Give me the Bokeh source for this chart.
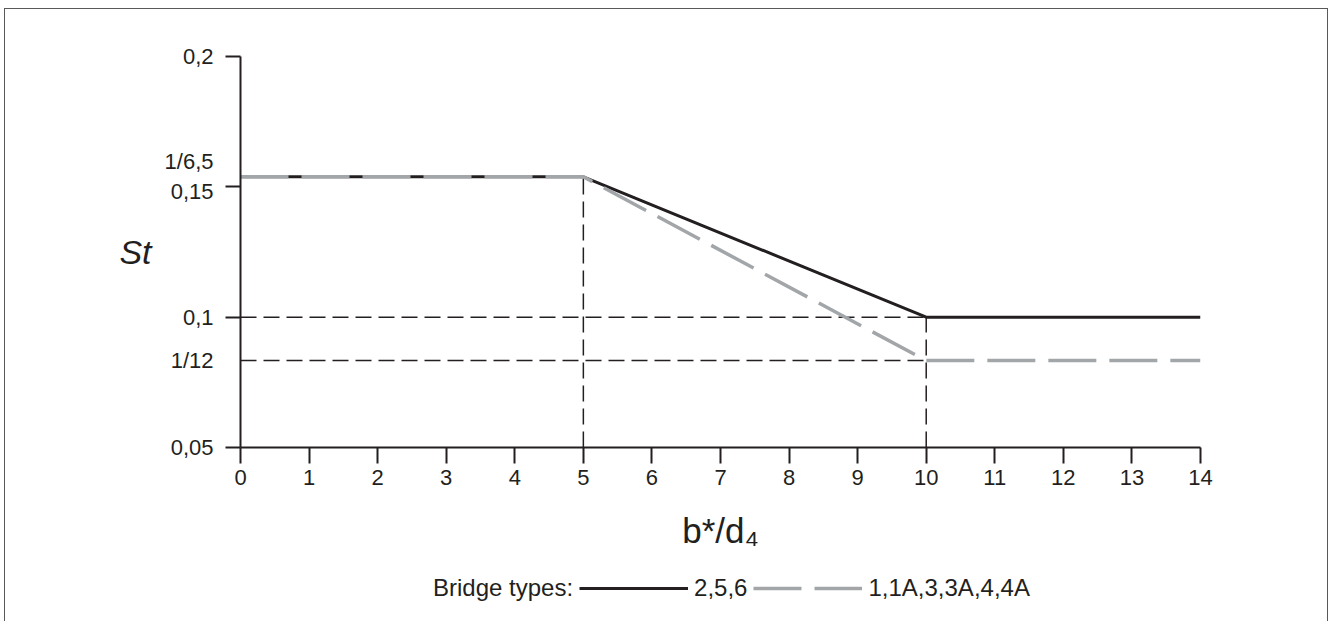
from bokeh.plotting import figure
from bokeh.layouts import column
from bokeh.models import (Range1d, FixedTicker, LinearAxis, Legend, LegendItem,
                          InlineStyleSheet)
from bokeh.embed import file_html
from bokeh.resources import INLINE

# ---- data ----
x_black = [0, 5, 10, 14]
st_black = [1 / 6.5, 1 / 6.5, 0.1, 0.1]
x_grey = [0, 5, 10, 14]
st_grey = [1 / 6.5, 1 / 6.5, 1 / 12, 1 / 12]
x_ticks = list(range(0, 15))
y_ticks = [0.05, 0.1, 0.15, 0.2]
y_label_values = [0.05, 1 / 12, 0.1, 1 / 6.5, 0.2]
y_label_texts = ["0,05", "1/12", "0,1", "1/6,5\n0,15", "0,2"]
x_breaks = [5, 10]
legend_title = "Bridge types:"
series_labels = ["2,5,6", "1,1A,3,3A,4,4A"]

FONT = "Liberation Sans"
INK = "#231f20"
GREY = "#a2a6a9"
BLACK_STYLE = dict(line_color=INK, line_width=3)
GREY_STYLE = dict(line_color=GREY, line_width=3.5, line_dash="48 13")

X0, X1 = 0, 14
Y0, Y1 = 0.05, 0.2
W = 1333
H_MAIN, H_LEG = 565, 56
ML, MR, MT = 240, 133, 56
MB = H_MAIN - MT - 391

p = figure(width=W, height=H_MAIN, x_range=Range1d(X0, X1), y_range=Range1d(Y0, Y1),
           output_backend="svg", toolbar_location=None,
           min_border_left=ML, min_border_right=MR, min_border_top=MT, min_border_bottom=MB)
p.outline_line_color = None
p.grid.visible = False
p.background_fill_color = "white"
p.border_fill_color = "white"

# axes (inner ones carry lines and tick marks)
for ax in (p.xaxis, p.yaxis):
    ax.axis_line_color = INK
    ax.axis_line_width = 2
    ax.major_tick_line_color = INK
    ax.major_tick_line_width = 2
    ax.major_tick_in = 0
    ax.minor_tick_line_color = None
    ax.major_label_text_font = FONT
    ax.major_label_text_color = INK
p.xaxis.ticker = FixedTicker(ticks=x_ticks)
p.xaxis.major_tick_out = 16
p.xaxis.major_label_text_font_size = "22px"
p.xaxis.major_label_standoff = 6
p.xaxis.axis_label = "b*/d\u2084"
p.xaxis.axis_label_text_font = FONT
p.xaxis.axis_label_text_font_size = "35px"
p.xaxis.axis_label_text_font_style = "normal"
p.xaxis.axis_label_text_color = INK
p.xaxis.axis_label_standoff = 23

p.yaxis.ticker = FixedTicker(ticks=y_ticks)
p.yaxis.major_tick_out = 15
p.yaxis.major_label_standoff = 0
p.yaxis.major_label_overrides = {v: "" for v in y_ticks}

# outer y axis: labels only (incl. reference values 1/12 and 1/6,5)
ylab = LinearAxis(ticker=FixedTicker(ticks=y_label_values),
                  major_label_overrides=dict(zip(y_label_values, y_label_texts)),
                  axis_line_color=None, major_tick_line_color=None, minor_tick_line_color=None,
                  major_tick_in=0, major_tick_out=0, major_label_standoff=12,
                  major_label_text_font=FONT, major_label_text_font_size="22px",
                  major_label_text_color=INK,
                  axis_label="St", axis_label_orientation="horizontal",
                  axis_label_text_font=FONT, axis_label_text_font_size="34px",
                  axis_label_text_font_style="italic", axis_label_text_color=INK,
                  axis_label_standoff=10)
p.add_layout(ylab, "left")

# guide lines
g_kw = dict(line_color=INK, line_width=1.5, line_dash="16 7")
p.segment(x0=[x_breaks[0], x_breaks[1]], y0=[Y0, Y0],
          x1=[x_breaks[0], x_breaks[1]], y1=[st_black[1], st_black[2]], **g_kw)
p.segment(x0=[X0, X0], y0=[st_black[2], st_grey[2]],
          x1=[x_breaks[1], x_breaks[1]], y1=[st_black[2], st_grey[2]], **g_kw)

# data lines
p.line(x_black, st_black, **BLACK_STYLE)
p.line(x_grey, st_grey, **GREY_STYLE)

# ---- legend strip below the chart ----
# its y range lies above the data, so the carrier lines themselves stay out of view
q = figure(width=W, height=H_LEG, x_range=Range1d(X0, X1), y_range=Range1d(1, 2),
           output_backend="svg", toolbar_location=None, min_border=0)
q.axis.visible = False
q.grid.visible = False
q.outline_line_color = None
q.background_fill_color = "white"
q.border_fill_color = "white"
k_head = q.line(x_black, st_black, line_alpha=0)
k_black = q.line(x_black, st_black, **BLACK_STYLE)
k_grey = q.line(x_grey, st_grey, **GREY_STYLE)
legend = Legend(items=[LegendItem(label=legend_title, renderers=[k_head]),
                       LegendItem(label=series_labels[0], renderers=[k_black]),
                       LegendItem(label=series_labels[1], renderers=[k_grey])],
                orientation="horizontal", location=(78, 19),
                glyph_width=109, glyph_height=20, label_standoff=6, spacing=6,
                padding=0, margin=0, border_line_color=None, background_fill_alpha=0,
                label_text_font=FONT, label_text_font_size="24px", label_text_color=INK)
q.add_layout(legend)

page = column(p, q, spacing=0)
# outer frame of the figure
page.stylesheets = [InlineStyleSheet(css=(
    ":host::after{content:'';position:absolute;left:4px;top:8px;width:1324px;height:613px;"
    "box-sizing:border-box;border:1.5px solid #58595b;border-bottom:none;pointer-events:none;}"))]

open("out.html", "w").write(file_html(page, INLINE))
